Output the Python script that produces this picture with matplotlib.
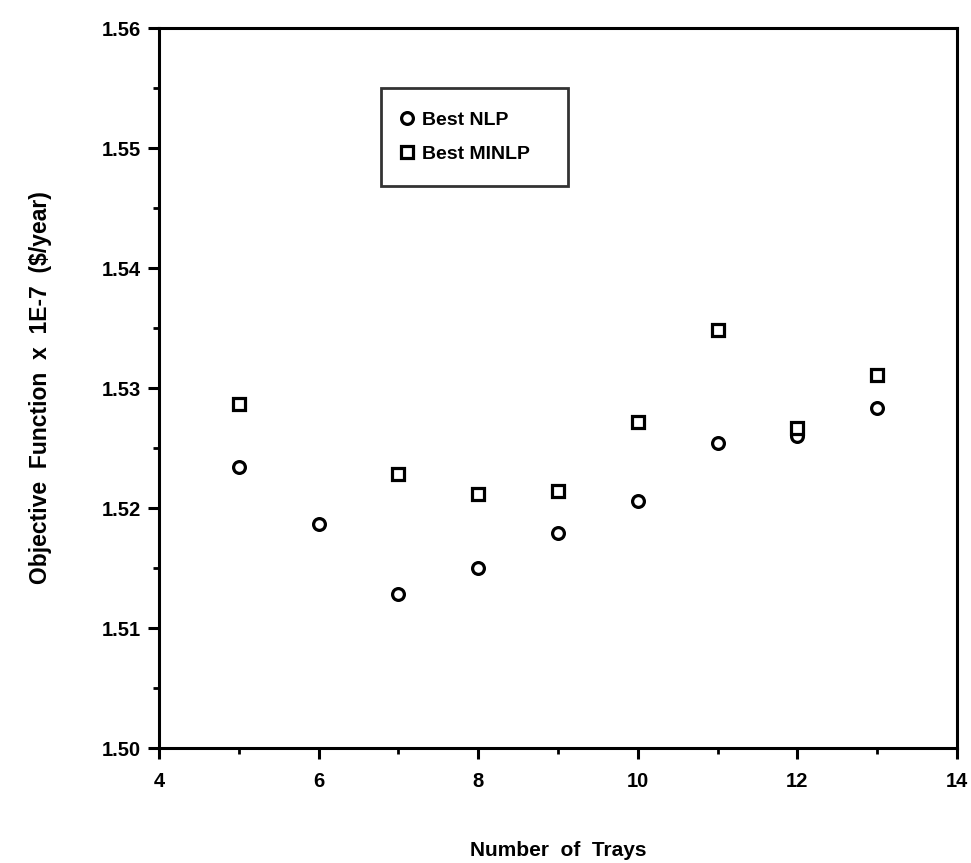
import matplotlib
matplotlib.use('Agg')
import matplotlib.pyplot as plt
from matplotlib.ticker import MultipleLocator

plt.rcParams['font.family'] = ['Liberation Sans', 'DejaVu Sans']

trays = [5, 6, 7, 8, 9, 10, 11, 12, 13]
best_nlp = [1.5234, 1.5187, 1.5128, 1.5150, 1.5179, 1.5206, 1.5254, 1.5260, 1.5283]
minlp_trays = [5, 7, 8, 9, 10, 11, 12, 13]
best_minlp = [1.5287, 1.5228, 1.5212, 1.5214, 1.5272, 1.5348, 1.5267, 1.5311]

fig = plt.figure(figsize=(9.71, 8.63), dpi=100)
ax = fig.add_axes([159 / 971, 1 - 748 / 863, 798 / 971, 720 / 863])

ax.plot(trays, best_nlp, linestyle='none', marker='o', markersize=8.5,
        markerfacecolor='white', markeredgecolor='black', markeredgewidth=2.3,
        label='Best NLP')
ax.plot(minlp_trays, best_minlp, linestyle='none', marker='s', markersize=8.5,
        markerfacecolor='white', markeredgecolor='black', markeredgewidth=2.3,
        label='Best MINLP')

ax.set_xlim(4, 14)
ax.set_ylim(1.50, 1.56)
ax.xaxis.set_major_locator(MultipleLocator(2))
ax.xaxis.set_minor_locator(MultipleLocator(1))
ax.yaxis.set_major_locator(MultipleLocator(0.01))
ax.yaxis.set_minor_locator(MultipleLocator(0.005))
ax.yaxis.set_major_formatter(plt.FormatStrFormatter('%.2f'))

for s in ax.spines.values():
    s.set_linewidth(2.2)
ax.tick_params(which='major', direction='out', length=8, width=2.2,
               labelsize=14.5)
ax.tick_params(axis='x', which='major', pad=9)
ax.tick_params(axis='y', which='major', pad=5)
ax.tick_params(which='minor', direction='out', length=4, width=2)
for lbl in ax.get_xticklabels() + ax.get_yticklabels():
    lbl.set_fontweight('bold')

ax.set_xlabel('Number  of  Trays', fontsize=15, fontweight='bold')
ax.xaxis.set_label_coords(0.5, (748 - 841) / 720)
ax.set_ylabel('Objective  Function  x  1E-7  ($/year)', fontsize=16.5,
              fontweight='bold')
ax.yaxis.set_label_coords((52 - 159) / 798, 0.5)

# legend box drawn where the original sits
leg = ax.legend(loc='upper left', bbox_to_anchor=(0.278, 0.778, 0.2345, 0.139),
                mode='expand', frameon=True, fancybox=False, edgecolor='black',
                fontsize=14, borderpad=1.2, labelspacing=0.86, handletextpad=0.6,
                borderaxespad=0, handlelength=0.3)
leg.get_frame().set_linewidth(2)
for t in leg.get_texts():
    t.set_fontweight('bold')

fig.savefig('out.png', dpi=100)
